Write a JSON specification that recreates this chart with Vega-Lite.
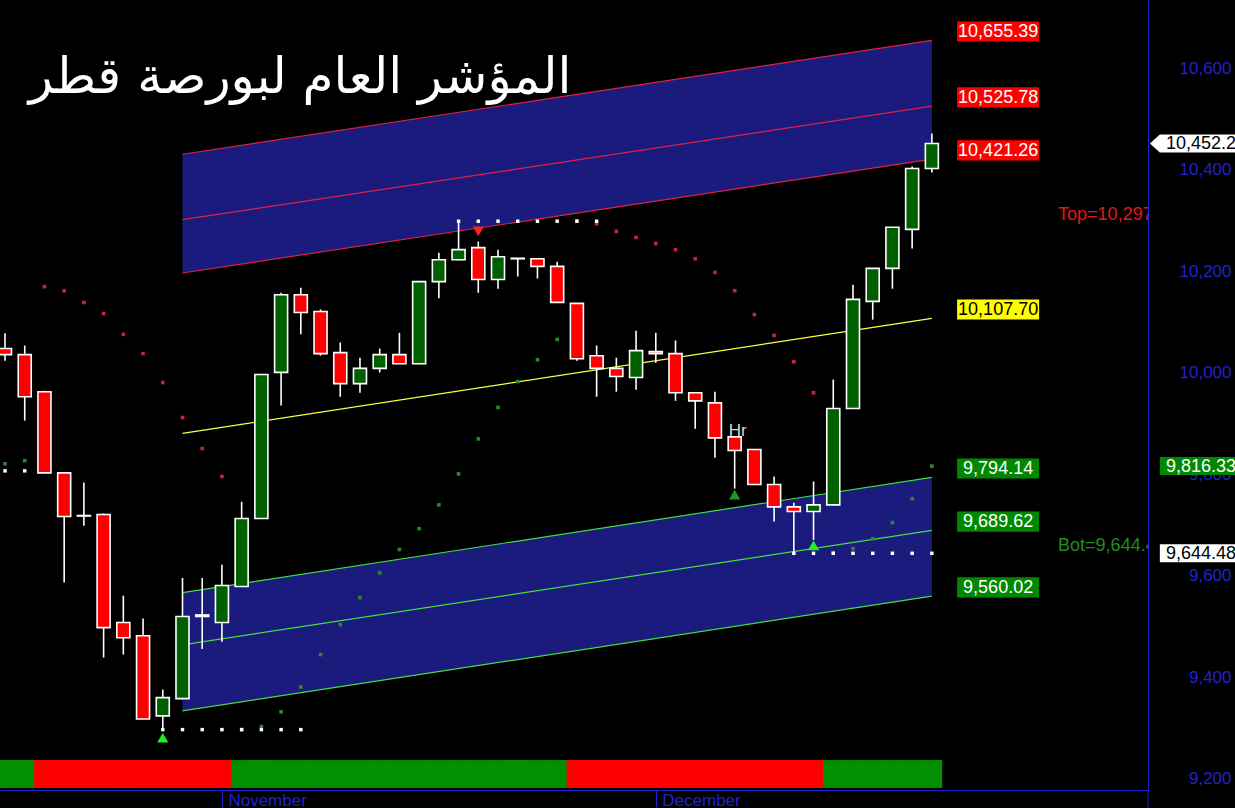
{
  "$schema": "https://vega.github.io/schema/vega-lite/v6.json",
  "width": 1148,
  "height": 790,
  "autosize": {"type": "none"},
  "padding": {"left": 0, "top": 0, "right": 87, "bottom": 18},
  "background": "#000000",
  "config": {"view": {"stroke": null}, "font": "Liberation Sans"},
  "resolve": {"scale": {"color": "independent", "fill": "independent", "shape": "independent"}},
  "datasets": {
    "candles": [
      {"i": 0, "o": 10048, "h": 10078, "l": 10024, "c": 10036, "sar": 9821, "trend": "up"},
      {"i": 1, "o": 10036, "h": 10054, "l": 9906, "c": 9953, "sar": 9827, "trend": "up"},
      {"i": 2, "o": 9963, "h": 9965, "l": 9803, "c": 9803, "sar": 10170, "trend": "down"},
      {"i": 3, "o": 9803, "h": 9804, "l": 9587, "c": 9717, "sar": 10162, "trend": "down"},
      {"i": 4, "o": 9719, "h": 9784, "l": 9699, "c": 9718, "sar": 10139, "trend": "down"},
      {"i": 5, "o": 9721, "h": 9723, "l": 9439, "c": 9498, "sar": 10117, "trend": "down"},
      {"i": 6, "o": 9508, "h": 9561, "l": 9445, "c": 9478, "sar": 10076, "trend": "down"},
      {"i": 7, "o": 9482, "h": 9516, "l": 9318, "c": 9318, "sar": 10038, "trend": "down"},
      {"i": 8, "o": 9324, "h": 9376, "l": 9297, "c": 9360, "sar": 9981, "trend": "down"},
      {"i": 9, "o": 9358, "h": 9596, "l": 9357, "c": 9520, "sar": 9912, "trend": "down"},
      {"i": 10, "o": 9520, "h": 9596, "l": 9456, "c": 9523, "sar": 9851, "trend": "down"},
      {"i": 11, "o": 9508, "h": 9622, "l": 9470, "c": 9581, "sar": 9796, "trend": "down"},
      {"i": 12, "o": 9579, "h": 9746, "l": 9578, "c": 9713, "sar": 9297, "trend": "up"},
      {"i": 13, "o": 9713, "h": 9997, "l": 9712, "c": 9997, "sar": 9303, "trend": "up"},
      {"i": 14, "o": 10001, "h": 10158, "l": 9936, "c": 10154, "sar": 9332, "trend": "up"},
      {"i": 15, "o": 10154, "h": 10168, "l": 10076, "c": 10119, "sar": 9381, "trend": "up"},
      {"i": 16, "o": 10121, "h": 10125, "l": 10034, "c": 10038, "sar": 9445, "trend": "up"},
      {"i": 17, "o": 10040, "h": 10060, "l": 9953, "c": 9979, "sar": 9504, "trend": "up"},
      {"i": 18, "o": 9979, "h": 10030, "l": 9961, "c": 10009, "sar": 9557, "trend": "up"},
      {"i": 19, "o": 10009, "h": 10048, "l": 10001, "c": 10036, "sar": 9606, "trend": "up"},
      {"i": 20, "o": 10036, "h": 10079, "l": 10018, "c": 10018, "sar": 9652, "trend": "up"},
      {"i": 21, "o": 10018, "h": 10180, "l": 10017, "c": 10180, "sar": 9693, "trend": "up"},
      {"i": 22, "o": 10180, "h": 10237, "l": 10147, "c": 10223, "sar": 9740, "trend": "up"},
      {"i": 23, "o": 10223, "h": 10300, "l": 10222, "c": 10243, "sar": 9801, "trend": "up"},
      {"i": 24, "o": 10247, "h": 10259, "l": 10158, "c": 10184, "sar": 9870, "trend": "up"},
      {"i": 25, "o": 10184, "h": 10243, "l": 10166, "c": 10229, "sar": 9932, "trend": "up"},
      {"i": 26, "o": 10226, "h": 10226, "l": 10190, "c": 10225, "sar": 9983, "trend": "up"},
      {"i": 27, "o": 10225, "h": 10226, "l": 10186, "c": 10210, "sar": 10026, "trend": "up"},
      {"i": 28, "o": 10210, "h": 10219, "l": 10138, "c": 10139, "sar": 10066, "trend": "up"},
      {"i": 29, "o": 10137, "h": 10138, "l": 10024, "c": 10028, "sar": 10300, "trend": "down"},
      {"i": 30, "o": 10034, "h": 10054, "l": 9953, "c": 10009, "sar": 10294, "trend": "down"},
      {"i": 31, "o": 10009, "h": 10030, "l": 9963, "c": 9993, "sar": 10279, "trend": "down"},
      {"i": 32, "o": 9991, "h": 10083, "l": 9967, "c": 10044, "sar": 10267, "trend": "down"},
      {"i": 33, "o": 10042, "h": 10079, "l": 10020, "c": 10038, "sar": 10255, "trend": "down"},
      {"i": 34, "o": 10038, "h": 10064, "l": 9945, "c": 9961, "sar": 10243, "trend": "down"},
      {"i": 35, "o": 9961, "h": 9962, "l": 9890, "c": 9945, "sar": 10225, "trend": "down"},
      {"i": 36, "o": 9941, "h": 9963, "l": 9833, "c": 9872, "sar": 10198, "trend": "down"},
      {"i": 37, "o": 9874, "h": 9875, "l": 9772, "c": 9847, "sar": 10162, "trend": "down"},
      {"i": 38, "o": 9849, "h": 9850, "l": 9780, "c": 9780, "sar": 10115, "trend": "down"},
      {"i": 39, "o": 9780, "h": 9796, "l": 9707, "c": 9736, "sar": 10074, "trend": "down"},
      {"i": 40, "o": 9736, "h": 9744, "l": 9644.48, "c": 9727, "sar": 10022, "trend": "down"},
      {"i": 41, "o": 9727, "h": 9786, "l": 9671, "c": 9740, "sar": 9961, "trend": "down"},
      {"i": 42, "o": 9740, "h": 9987, "l": 9739, "c": 9930, "sar": 9646, "trend": "up"},
      {"i": 43, "o": 9930, "h": 10174, "l": 9929, "c": 10145, "sar": 9654, "trend": "up"},
      {"i": 44, "o": 10141, "h": 10206, "l": 10105, "c": 10206, "sar": 9673, "trend": "up"},
      {"i": 45, "o": 10206, "h": 10287, "l": 10166, "c": 10287, "sar": 9705, "trend": "up"},
      {"i": 46, "o": 10283, "h": 10407, "l": 10245, "c": 10403, "sar": 9752, "trend": "up"},
      {"i": 47, "o": 10403, "h": 10472, "l": 10395, "c": 10452.2, "sar": 9816.33, "trend": "up"}
    ],
    "channels": [
      {"i": 9, "ut": 10431, "um": 10302, "ub": 10197, "reg": 9881, "lt": 9567, "lm": 9464, "lb": 9334},
      {"i": 47, "ut": 10655.39, "um": 10525.78, "ub": 10421.26, "reg": 10107.7, "lt": 9794.14, "lm": 9689.62, "lb": 9560.02}
    ],
    "markers": [
      {"i": 0, "v": 9807}, {"i": 1, "v": 9807},
      {"i": 8, "v": 9297}, {"i": 9, "v": 9297}, {"i": 10, "v": 9297}, {"i": 11, "v": 9297},
      {"i": 12, "v": 9297}, {"i": 13, "v": 9297}, {"i": 14, "v": 9297}, {"i": 15, "v": 9297},
      {"i": 23, "v": 10299}, {"i": 24, "v": 10299}, {"i": 25, "v": 10299}, {"i": 26, "v": 10299},
      {"i": 27, "v": 10299}, {"i": 28, "v": 10299}, {"i": 29, "v": 10299}, {"i": 30, "v": 10299},
      {"i": 40, "v": 9644.48}, {"i": 41, "v": 9644.48}, {"i": 42, "v": 9644.48}, {"i": 43, "v": 9644.48},
      {"i": 44, "v": 9644.48}, {"i": 45, "v": 9644.48}, {"i": 46, "v": 9644.48}, {"i": 47, "v": 9644.48}
    ],
    "signals": [
      {"i": 8, "v": 9281, "kind": "buy"},
      {"i": 24, "v": 10279, "kind": "sell"},
      {"i": 37, "v": 9760, "kind": "hr"},
      {"i": 41, "v": 9660, "kind": "buy"}
    ],
    "labels": [
      {"v": 10655.39, "text": "10,655.39", "kind": "upper"},
      {"v": 10525.78, "text": "10,525.78", "kind": "upper"},
      {"v": 10421.26, "text": "10,421.26", "kind": "upper"},
      {"v": 10107.7, "text": "10,107.70", "kind": "reg"},
      {"v": 9794.14, "text": "9,794.14", "kind": "lower"},
      {"v": 9689.62, "text": "9,689.62", "kind": "lower"},
      {"v": 9560.02, "text": "9,560.02", "kind": "lower"}
    ],
    "notes": [
      {"v": 10297, "text": "Top=10,297", "kind": "top"},
      {"v": 9644.48, "text": "Bot=9,644.48", "kind": "bot"}
    ],
    "tags": [
      {"v": 10452.2, "text": "10,452.2", "kind": "last"},
      {"v": 9816.33, "text": "9,816.33", "kind": "sar"},
      {"v": 9644.48, "text": "9,644.48", "kind": "bot"}
    ]
  },
  "layer": [
    {
      "data": {"name": "candles"},
      "mark": {"type": "bar", "width": 20.6, "clip": true},
      "encoding": {
        "x": {"field": "i", "type": "quantitative", "title": null,
          "scale": {"domain": [-0.254, 57.96], "nice": false, "zero": false, "padding": 0},
          "axis": {"values": [11, 33], "labelExpr": "datum.value == 11 ? 'November' : 'December'",
            "grid": false, "domainColor": "#2222cc", "tickColor": "#2222cc", "tickSize": 17,
            "labelColor": "#2222cc", "labelFontSize": 17, "labelAlign": "left", "labelBaseline": "top",
            "labelPadding": -15, "labelOffset": 6, "labelFlush": false, "labelOverlap": false, "labelBound": false}},
        "y": {"datum": 9237, "type": "quantitative", "title": null,
          "scale": {"domain": [9178, 10735], "nice": false, "zero": false},
          "axis": {"orient": "right", "values": [9200, 9400, 9600, 9800, 10000, 10200, 10400, 10600],
            "format": ",d", "grid": false, "ticks": false, "domainColor": "#2222cc",
            "labelColor": "#2222cc", "labelFontSize": 17, "labelAlign": "right", "labelBaseline": "middle",
            "labelPadding": 83, "labelFlush": false, "labelOverlap": false, "labelBound": false}},
        "y2": {"datum": 9182},
        "color": {"field": "trend", "type": "nominal", "legend": null,
          "scale": {"domain": ["up", "down"], "range": ["#009000", "#ff0000"]}}
      }
    },
    {
      "data": {"name": "channels"},
      "mark": {"type": "area", "color": "#1b1b7d"},
      "encoding": {
        "x": {"field": "i", "type": "quantitative", "title": null, "scale": {"domain": [-0.254, 57.96], "nice": false, "zero": false, "padding": 0}},
        "y": {"field": "ut", "type": "quantitative", "title": null, "scale": {"domain": [9178, 10735], "nice": false, "zero": false}},
        "y2": {"field": "ub"}
      }
    },
    {
      "data": {"name": "channels"},
      "mark": {"type": "area", "color": "#1b1b7d"},
      "encoding": {
        "x": {"field": "i", "type": "quantitative", "title": null, "scale": {"domain": [-0.254, 57.96], "nice": false, "zero": false, "padding": 0}},
        "y": {"field": "lt", "type": "quantitative", "title": null, "scale": {"domain": [9178, 10735], "nice": false, "zero": false}},
        "y2": {"field": "lb"}
      }
    },
    {
      "data": {"name": "channels"},
      "transform": [{"fold": ["ut", "um", "ub", "reg", "lt", "lm", "lb"], "as": ["line", "v"]}],
      "mark": {"type": "line", "strokeWidth": 1.2},
      "encoding": {
        "x": {"field": "i", "type": "quantitative", "title": null, "scale": {"domain": [-0.254, 57.96], "nice": false, "zero": false, "padding": 0}},
        "y": {"field": "v", "type": "quantitative", "title": null, "scale": {"domain": [9178, 10735], "nice": false, "zero": false}},
        "color": {"field": "line", "type": "nominal", "legend": null,
          "scale": {"domain": ["ut", "um", "ub", "reg", "lt", "lm", "lb"],
            "range": ["#dd2244", "#dd2244", "#dd2244", "#ffff44", "#44dd44", "#44dd44", "#44dd44"]}}
      }
    },
    {
      "data": {"name": "candles"},
      "mark": {"type": "point", "shape": "square", "filled": true, "size": 13, "opacity": 1},
      "encoding": {
        "x": {"field": "i", "type": "quantitative", "title": null, "scale": {"domain": [-0.254, 57.96], "nice": false, "zero": false, "padding": 0}},
        "y": {"field": "sar", "type": "quantitative", "title": null, "scale": {"domain": [9178, 10735], "nice": false, "zero": false}},
        "color": {"field": "trend", "type": "nominal", "legend": null,
          "scale": {"domain": ["up", "down"], "range": ["#2a8a2a", "#cc2233"]}}
      }
    },
    {
      "data": {"name": "markers"},
      "mark": {"type": "point", "shape": "square", "filled": true, "size": 12, "opacity": 1, "color": "#ffffff"},
      "encoding": {
        "x": {"field": "i", "type": "quantitative", "title": null, "scale": {"domain": [-0.254, 57.96], "nice": false, "zero": false, "padding": 0}},
        "y": {"field": "v", "type": "quantitative", "title": null, "scale": {"domain": [9178, 10735], "nice": false, "zero": false}}
      }
    },
    {
      "data": {"name": "candles"},
      "mark": {"type": "rule", "color": "#ffffff", "strokeWidth": 1.6},
      "encoding": {
        "x": {"field": "i", "type": "quantitative", "title": null, "scale": {"domain": [-0.254, 57.96], "nice": false, "zero": false, "padding": 0}},
        "y": {"field": "l", "type": "quantitative", "title": null, "scale": {"domain": [9178, 10735], "nice": false, "zero": false}},
        "y2": {"field": "h"}
      }
    },
    {
      "data": {"name": "candles"},
      "mark": {"type": "bar", "width": 13, "stroke": "#ffffff", "strokeWidth": 1.6},
      "encoding": {
        "x": {"field": "i", "type": "quantitative", "title": null, "scale": {"domain": [-0.254, 57.96], "nice": false, "zero": false, "padding": 0}},
        "y": {"field": "o", "type": "quantitative", "title": null, "scale": {"domain": [9178, 10735], "nice": false, "zero": false}},
        "y2": {"field": "c"},
        "fill": {"condition": {"test": "datum.c >= datum.o", "value": "#006000"}, "value": "#ff0000"}
      }
    },
    {
      "data": {"name": "signals"},
      "mark": {"type": "point", "filled": true, "size": 125, "opacity": 1},
      "encoding": {
        "x": {"field": "i", "type": "quantitative", "title": null, "scale": {"domain": [-0.254, 57.96], "nice": false, "zero": false, "padding": 0}},
        "y": {"field": "v", "type": "quantitative", "title": null, "scale": {"domain": [9178, 10735], "nice": false, "zero": false}},
        "shape": {"field": "kind", "type": "nominal", "legend": null,
          "scale": {"domain": ["buy", "sell", "hr"], "range": ["triangle-up", "triangle-down", "triangle-up"]}},
        "color": {"field": "kind", "type": "nominal", "legend": null,
          "scale": {"domain": ["buy", "sell", "hr"], "range": ["#22ee22", "#ff2222", "#1a9a1a"]}}
      }
    },
    {
      "data": {"values": [{"note": "Hr"}]},
      "mark": {"type": "text", "color": "#d8d8d8", "fontSize": 17, "baseline": "middle", "align": "center"},
      "encoding": {
        "x": {"datum": 37.15, "type": "quantitative", "title": null, "scale": {"domain": [-0.254, 57.96], "nice": false, "zero": false, "padding": 0}},
        "y": {"datum": 9886, "type": "quantitative", "title": null, "scale": {"domain": [9178, 10735], "nice": false, "zero": false}},
        "text": {"field": "note"}
      }
    },
    {
      "data": {"values": [{"title": "المؤشر العام لبورصة قطر"}]},
      "mark": {"type": "text", "color": "#ffffff", "font": "DejaVu Sans", "fontSize": 50, "baseline": "alphabetic", "align": "center"},
      "encoding": {
        "x": {"datum": 14.96, "type": "quantitative", "title": null, "scale": {"domain": [-0.254, 57.96], "nice": false, "zero": false, "padding": 0}},
        "y": {"datum": 10551, "type": "quantitative", "title": null, "scale": {"domain": [9178, 10735], "nice": false, "zero": false}},
        "text": {"field": "title"}
      }
    },
    {
      "data": {"name": "labels"},
      "mark": {"type": "point", "filled": true, "size": 6724, "opacity": 1, "strokeWidth": 0},
      "encoding": {
        "x": {"datum": 50.36, "type": "quantitative", "title": null, "scale": {"domain": [-0.254, 57.96], "nice": false, "zero": false, "padding": 0}},
        "y": {"field": "v", "type": "quantitative", "title": null, "scale": {"domain": [9178, 10735], "nice": false, "zero": false}},
        "shape": {"value": "M-1,-0.46H1V0.03H-1Z"},
        "fill": {"field": "kind", "type": "nominal", "legend": null,
          "scale": {"domain": ["upper", "reg", "lower"], "range": ["#ff0000", "#ffff00", "#008800"]}}
      }
    },
    {
      "data": {"name": "labels"},
      "mark": {"type": "text", "fontSize": 18, "align": "center", "baseline": "alphabetic", "dy": -3},
      "encoding": {
        "x": {"datum": 50.36, "type": "quantitative", "title": null, "scale": {"domain": [-0.254, 57.96], "nice": false, "zero": false, "padding": 0}},
        "y": {"field": "v", "type": "quantitative", "title": null, "scale": {"domain": [9178, 10735], "nice": false, "zero": false}},
        "text": {"field": "text"},
        "fill": {"field": "kind", "type": "nominal", "legend": null,
          "scale": {"domain": ["upper", "reg", "lower"], "range": ["#ffffff", "#000000", "#ffffff"]}}
      }
    },
    {
      "data": {"name": "notes"},
      "mark": {"type": "text", "fontSize": 18, "align": "left", "baseline": "alphabetic", "dy": -2, "clip": true},
      "encoding": {
        "x": {"datum": 53.4, "type": "quantitative", "title": null, "scale": {"domain": [-0.254, 57.96], "nice": false, "zero": false, "padding": 0}},
        "y": {"field": "v", "type": "quantitative", "title": null, "scale": {"domain": [9178, 10735], "nice": false, "zero": false}},
        "text": {"field": "text"},
        "fill": {"field": "kind", "type": "nominal", "legend": null,
          "scale": {"domain": ["top", "bot"], "range": ["#e01818", "#1e8e1e"]}}
      }
    },
    {
      "data": {"values": [{"a": 1}]},
      "mark": {"type": "rule", "color": "#2222cc", "strokeWidth": 1},
      "encoding": {
        "x": {"datum": 57.96, "type": "quantitative", "title": null, "scale": {"domain": [-0.254, 57.96], "nice": false, "zero": false, "padding": 0}},
        "y": {"datum": 9178, "type": "quantitative", "title": null, "scale": {"domain": [9178, 10735], "nice": false, "zero": false}},
        "y2": {"datum": 9140}
      }
    },
    {
      "data": {"name": "tags"},
      "mark": {"type": "point", "filled": true, "size": 8100, "opacity": 1, "strokeWidth": 0},
      "encoding": {
        "x": {"datum": 60.34, "type": "quantitative", "title": null, "scale": {"domain": [-0.254, 57.96], "nice": false, "zero": false, "padding": 0}},
        "y": {"field": "v", "type": "quantitative", "title": null, "scale": {"domain": [9178, 10735], "nice": false, "zero": false}},
        "shape": {"field": "kind", "type": "nominal", "legend": null,
          "scale": {"domain": ["last", "sar", "bot"], "range": ["M-1,0L-0.78,-0.2H1V0.2H-0.78Z", "M-0.78,-0.2H1V0.2H-0.78Z", "M-0.78,-0.2H1V0.2H-0.78Z"]}},
        "fill": {"field": "kind", "type": "nominal", "legend": null,
          "scale": {"domain": ["last", "sar", "bot"], "range": ["#ffffff", "#008800", "#ffffff"]}}
      }
    },
    {
      "data": {"name": "tags"},
      "mark": {"type": "text", "fontSize": 18, "align": "left", "baseline": "middle", "dy": 1},
      "encoding": {
        "x": {"datum": 58.87, "type": "quantitative", "title": null, "scale": {"domain": [-0.254, 57.96], "nice": false, "zero": false, "padding": 0}},
        "y": {"field": "v", "type": "quantitative", "title": null, "scale": {"domain": [9178, 10735], "nice": false, "zero": false}},
        "text": {"field": "text"},
        "fill": {"field": "kind", "type": "nominal", "legend": null,
          "scale": {"domain": ["last", "sar", "bot"], "range": ["#000000", "#ffffff", "#000000"]}}
      }
    }
  ]
}
